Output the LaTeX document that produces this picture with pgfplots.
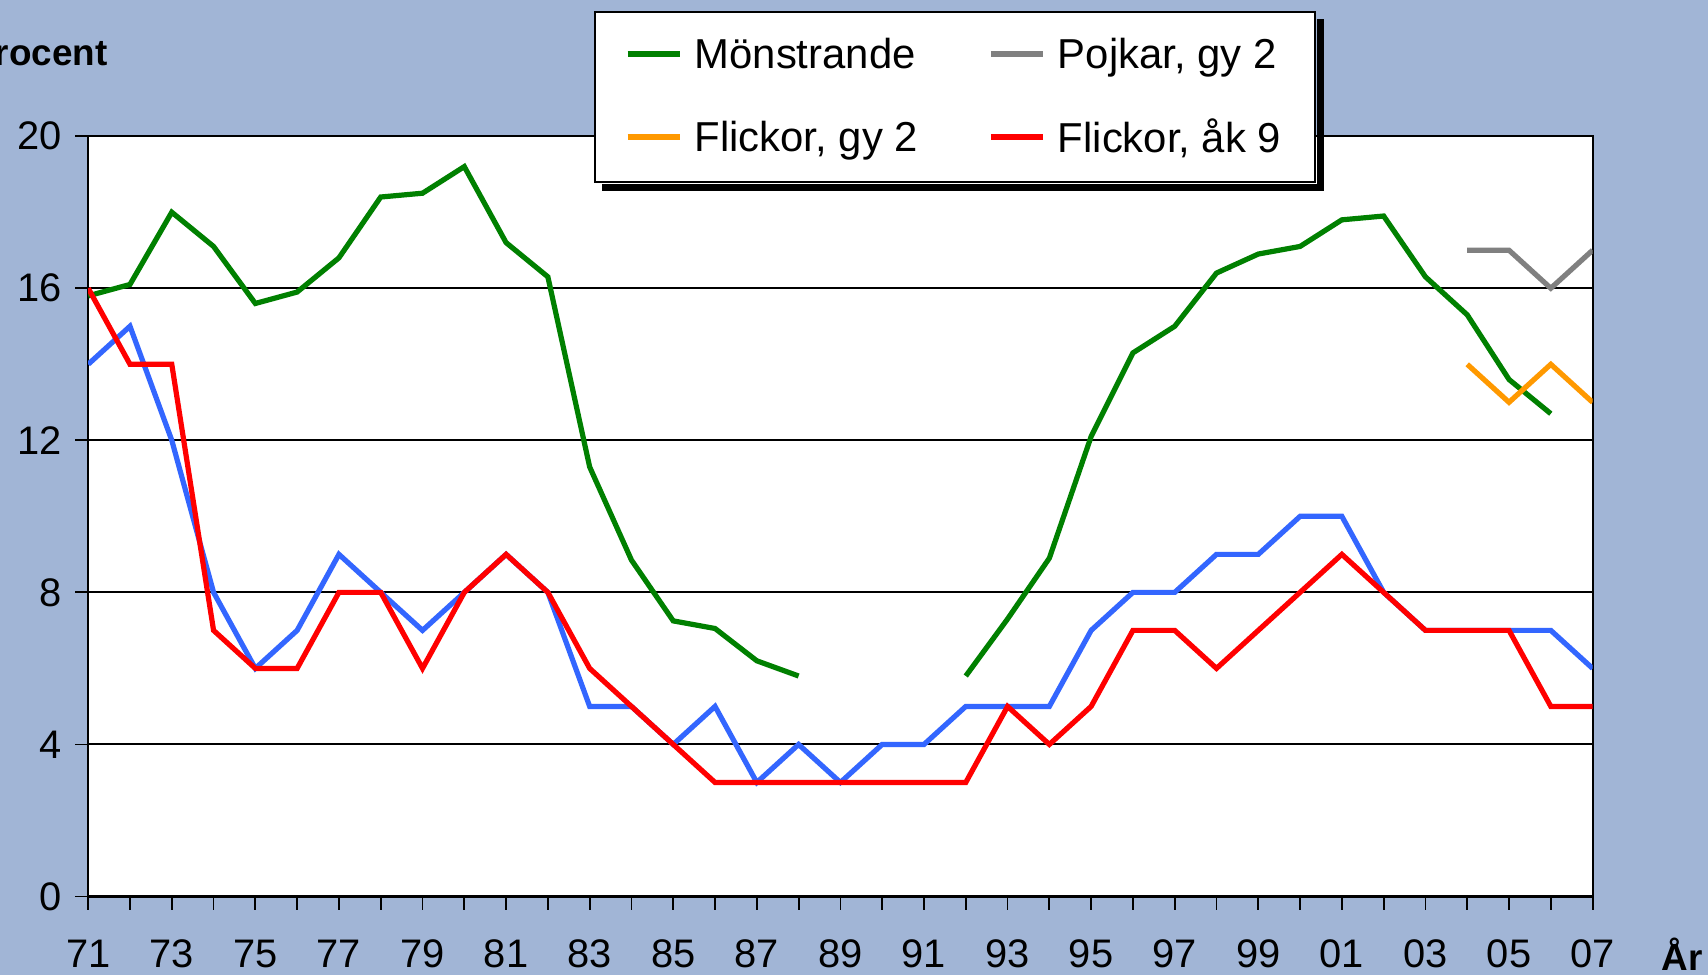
\documentclass[border=0pt]{standalone}
\usepackage{fontspec}
\setmainfont{Liberation Sans}
\usepackage{pgfplots}
\pgfplotsset{compat=1.18}
\usetikzlibrary{calc}

\definecolor{bg}{RGB}{161,181,214}
\definecolor{cgreen}{RGB}{0,128,0}
\definecolor{cblue}{RGB}{51,102,255}
\definecolor{cred}{RGB}{255,0,0}
\definecolor{corange}{RGB}{255,153,0}
\definecolor{cgray}{RGB}{128,128,128}

\newcommand\tickfont{\fontsize{20}{24}\selectfont}
\newcommand\legfont{\fontsize{21}{25}\selectfont}
\newcommand\ttlfont{\fontsize{18.5}{22}\selectfont\bfseries}

\begin{document}
\begin{tikzpicture}
\useasboundingbox (0,0) rectangle (854bp,487.5bp);
\fill[bg] (0,0) rectangle (854bp,487.5bp);
\node[anchor=base east, inner sep=0pt, font=\ttlfont] at (54bp,454.6bp) {Procent};
\node[anchor=base east, inner sep=0pt, font=\ttlfont] at (851.5bp,2.2bp) {År};
\begin{axis}[
  at={(44.1bp,39.25bp)}, anchor=south west,
  scale only axis, width=752.2bp, height=380.15bp,
  xmin=71, xmax=107, ymin=0, ymax=20,
  axis background/.style={fill=white},
  axis line style={black, line width=1.1bp},
  ytick={0,4,...,20},
  xtick={71,...,107},
  xticklabels={71,,73,,75,,77,,79,,81,,83,,85,,87,,89,,91,,93,,95,,97,,99,,01,,03,,05,,07},
  xtick pos=bottom, ytick pos=left,
  tick align=outside, major tick length=6.5bp,
  tick style={black, line width=0.9bp},
  ymajorgrids, grid style={black, line width=1bp},
  tick label style={font=\tickfont},
  /pgf/number format/assume math mode=true,
  xticklabel style={anchor=base, yshift=-29bp},
  yticklabel style={xshift=-3bp},
  unbounded coords=jump,
  every axis plot/.append style={line width=2.6bp, line join=miter},
  legend columns=2,
  legend cell align=left,
  legend image code/.code={\draw[#1, line width=3bp] (0bp,0bp) -- (26bp,0bp);},
  legend style={name=leg, at={(0.336,1.165)}, anchor=north west,
    draw=black, line width=1bp, fill=white, font=\legfont,
    inner xsep=15bp, inner ysep=11bp, row sep=20bp,
    /tikz/every odd column/.append style={column sep=4bp},
    /tikz/every even column/.append style={column sep=33bp}},
]
% Pojkar, åk 9 (no legend entry)
\addplot[cblue, forget plot] coordinates {
 (71,14) (72,15) (73,12) (74,8) (75,6) (76,7) (77,9) (78,8) (79,7) (80,8)
 (81,9) (82,8) (83,5) (84,5) (85,4) (86,5) (87,3) (88,4) (89,3) (90,4)
 (91,4) (92,5) (93,5) (94,5) (95,7) (96,8) (97,8) (98,9) (99,9) (100,10)
 (101,10) (102,8) (103,7) (104,7) (105,7) (106,7) (107,6)
};
\addplot[cgreen] coordinates {
 (71,15.8) (72,16.1) (73,18.0) (74,17.1) (75,15.6) (76,15.9) (77,16.8) (78,18.4)
 (79,18.5) (80,19.2) (81,17.2) (82,16.3) (83,11.3) (84,8.85) (85,7.25) (86,7.05)
 (87,6.2) (88,5.8) (89,nan) (90,nan) (91,nan) (92,5.8) (93,7.3) (94,8.9)
 (95,12.1) (96,14.3) (97,15.0) (98,16.4) (99,16.9) (100,17.1) (101,17.8)
 (102,17.9) (103,16.3) (104,15.3) (105,13.6) (106,12.7)
};
\addlegendentry{Mönstrande}
\addplot[cgray] coordinates {(104,17) (105,17) (106,16) (107,17)};
\addlegendentry{Pojkar, gy 2}
\addplot[corange] coordinates {(104,14) (105,13) (106,14) (107,13)};
\addlegendentry{Flickor, gy 2}
\addplot[cred] coordinates {
 (71,16) (72,14) (73,14) (74,7) (75,6) (76,6) (77,8) (78,8) (79,6) (80,8)
 (81,9) (82,8) (83,6) (84,5) (85,4) (86,3) (87,3) (88,3) (89,3) (90,3)
 (91,3) (92,3) (93,5) (94,4) (95,5) (96,7) (97,7) (98,6) (99,7) (100,8)
 (101,9) (102,8) (103,7) (104,7) (105,7) (106,5) (107,5)
};
\addlegendentry{Flickor, åk 9}
\end{axis}
% legend shadow
\fill[black] ($(leg.north east)+(0.5bp,-4bp)$) rectangle ($(leg.south east)+(4bp,-4bp)$);
\fill[black] ($(leg.south west)+(4bp,-0.5bp)$) rectangle ($(leg.south east)+(4bp,-4bp)$);
\end{tikzpicture}
\end{document}
